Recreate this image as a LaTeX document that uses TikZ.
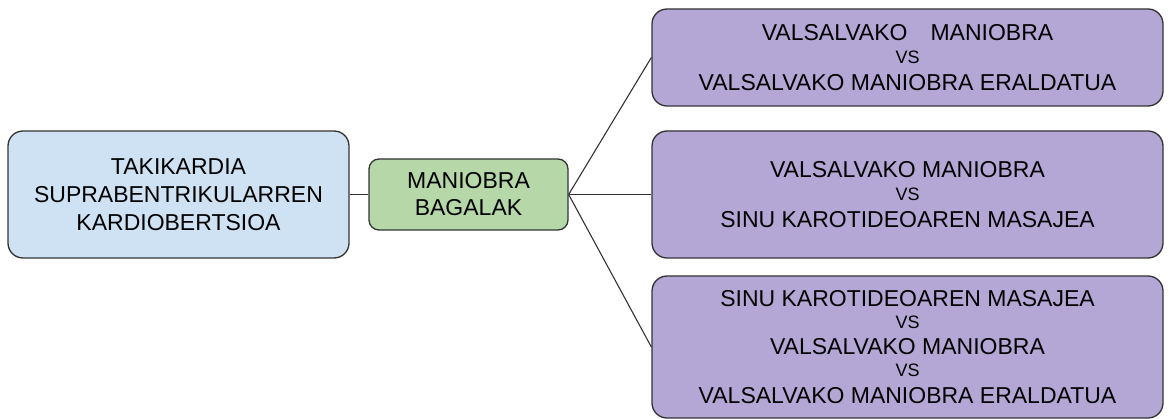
\documentclass[tikz,border=0pt]{standalone}
\usepackage{fontspec}
\setmainfont{Liberation Sans}
\definecolor{bluefill}{HTML}{CFE2F3}
\definecolor{greenfill}{HTML}{B6D7A8}
\definecolor{purplefill}{HTML}{B4A7D6}
\definecolor{edgegray}{HTML}{333333}
\newcommand{\vsline}{{\fontsize{18}{20}\selectfont VS}}
\tikzset{
  box/.style={draw=edgegray, line width=1.3pt, rectangle, rounded corners=15pt,
    align=center, inner sep=0pt, text=black,
    font=\fontsize{23}{28}\selectfont},
  bluebox/.style={box, fill=bluefill},
  greenbox/.style={box, fill=greenfill, rounded corners=10pt},
  purplebox/.style={box, fill=purplefill},
  link/.style={draw=edgegray, line width=1.1pt}
}
\begin{document}
\begin{tikzpicture}[x=1pt,y=-1pt]
\useasboundingbox (0,0) rectangle (1169,419);
\node[bluebox, minimum width=341pt, minimum height=127pt] (tak) at (178.5,194.5)
  {TAKIKARDIA\\SUPRABENTRIKULARREN\\KARDIOBERTSIOA};
\node[greenbox, minimum width=199pt, minimum height=71pt] (man) at (468.5,194.5)
  {MANIOBRA\\[-1pt]BAGALAK};
\node[purplebox, minimum width=511pt, minimum height=97pt] (p1) at (907.5,57.5)
  {VALSALVAKO\hspace{1em}MANIOBRA\\[-5pt]\vsline\\[-1pt]VALSALVAKO MANIOBRA ERALDATUA};
\node[purplebox, minimum width=511pt, minimum height=127pt] (p2) at (907.5,194.5)
  {VALSALVAKO MANIOBRA\\[-5pt]\vsline\\[-1pt]SINU KAROTIDEOAREN MASAJEA};
\node[purplebox, minimum width=511pt, minimum height=142pt] (p3) at (907.5,347)
  {SINU KAROTIDEOAREN MASAJEA\\[-6pt]\vsline\\[-2pt]VALSALVAKO MANIOBRA\\[-6pt]\vsline\\[-1pt]VALSALVAKO MANIOBRA ERALDATUA};
\draw[link] (tak.east) -- (man.west);
\draw[link] (man.east) -- (p1.west);
\draw[link] (man.east) -- (p2.west);
\draw[link] (man.east) -- (p3.west);
\end{tikzpicture}
\end{document}
